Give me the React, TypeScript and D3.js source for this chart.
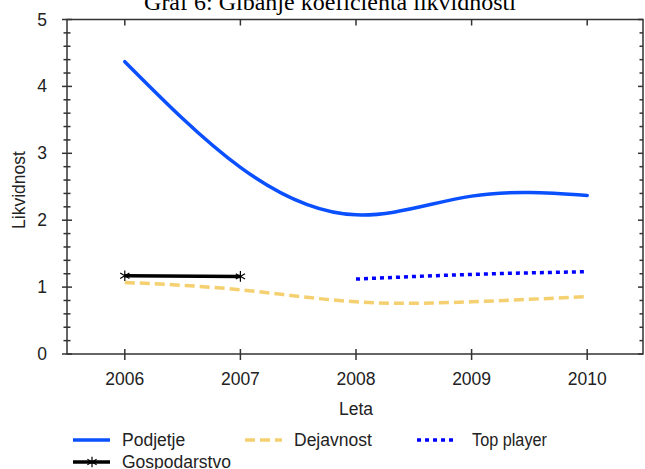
import * as React from 'react'
import * as d3 from 'd3'

interface Point {
    year: number
    value: number
}

// values
const years = [2006, 2007, 2008, 2009, 2010]
const podjetje = [4.37, 2.79, 2.08, 2.36, 2.37]
const dejavnost = [1.07, 0.96, 0.78, 0.78, 0.86]
const topPlayerYears = [2008, 2009, 2010]
const topPlayer = [1.12, 1.19, 1.23]
const gospodarstvoYears = [2006, 2007]
const gospodarstvo = [1.17, 1.16]
const yTicks = [0, 1, 2, 3, 4, 5]

const toPoints = (xs: number[], vs: number[]): Point[] =>
    xs.map((year, i) => ({ year, value: vs[i] }))

const FONT = '"Liberation Sans", Arial, sans-serif'

export default class App extends React.Component<{}, {}> {
    private node: SVGSVGElement | null = null

    componentDidMount() {
        this.draw()
    }

    private draw(): void {
        if (!this.node)
            return

        const svg = d3.select(this.node)
        svg.selectAll('*').remove()

        const left = 67, right = 643, top = 19.5, bottom = 354

        const x = d3.scaleLinear().domain([2005.5, 2010.5]).range([left, 645])
        const y = d3.scaleLinear().domain([0, 5]).range([bottom, top])

        const line = d3.line<Point>()
            .x(d => x(d.year))
            .y(d => y(d.value))

        // title (cut off by the top edge like the reference)
        svg.append('text')
            .attr('x', 330)
            .attr('y', 9.5)
            .attr('text-anchor', 'middle')
            .attr('font-family', '"Liberation Serif", "Times New Roman", serif')
            .attr('font-size', 24)
            .text('Graf 6: Gibanje koeficienta likvidnosti')

        const axisColor = '#333'
        const frame = svg.append('g').attr('stroke', axisColor).attr('stroke-width', 1.5).attr('fill', 'none')
        frame.append('path')
            .attr('d', `M${left},${top}H${right}V${bottom}H${left}Z`)

        // y ticks, minor every 0.2
        const minor = d3.range(0, 5.001, 0.2)
        for (const v of minor) {
            const isMajor = Math.abs(v - Math.round(v)) < 1e-6
            const len = isMajor ? 5 : 3.5
            frame.append('line')
                .attr('x1', left - len).attr('x2', left + len)
                .attr('y1', y(v)).attr('y2', y(v))
            frame.append('line')
                .attr('x1', right - len).attr('x2', right)
                .attr('y1', y(v)).attr('y2', y(v))
        }

        // x ticks
        for (const yr of years) {
            frame.append('line')
                .attr('x1', x(yr)).attr('x2', x(yr))
                .attr('y1', bottom - 5).attr('y2', bottom + 6)
            frame.append('line')
                .attr('x1', x(yr)).attr('x2', x(yr))
                .attr('y1', top).attr('y2', top + 6)
        }

        const labels = svg.append('g')
            .attr('font-family', FONT)
            .attr('font-size', 17.5)
            .attr('fill', '#222')

        labels.selectAll('text.ytick')
            .data(yTicks)
            .enter().append('text')
            .attr('class', 'ytick')
            .attr('x', 47)
            .attr('y', d => y(d) + 6)
            .attr('text-anchor', 'end')
            .text(d => d)

        labels.selectAll('text.xtick')
            .data(years)
            .enter().append('text')
            .attr('class', 'xtick')
            .attr('x', d => x(d))
            .attr('y', 385)
            .attr('text-anchor', 'middle')
            .text(d => d)

        labels.append('text')
            .attr('x', 356)
            .attr('y', 415)
            .attr('text-anchor', 'middle')
            .text('Leta')

        labels.append('text')
            .attr('transform', 'translate(25,190) rotate(-90)')
            .attr('text-anchor', 'middle')
            .text('Likvidnost')

        const plot = svg.append('g').attr('fill', 'none')

        // Dejavnost
        plot.append('path')
            .datum(toPoints(years, dejavnost))
            .attr('stroke', '#f5d070')
            .attr('stroke-width', 3.5)
            .attr('stroke-dasharray', '10,5')
            .attr('d', line.curve(d3.curveNatural))

        // Podjetje
        plot.append('path')
            .datum(toPoints(years, podjetje))
            .attr('stroke', '#0a50ff')
            .attr('stroke-width', 3.5)
            .attr('stroke-linecap', 'round')
            .attr('d', line.curve(d3.curveNatural))

        // Top player
        plot.append('path')
            .datum(toPoints(topPlayerYears, topPlayer))
            .attr('stroke', '#0000ff')
            .attr('stroke-width', 3.5)
            .attr('stroke-dasharray', '4,4')
            .attr('d', line.curve(d3.curveNatural))

        // Gospodarstvo
        const gosp = toPoints(gospodarstvoYears, gospodarstvo)
        plot.append('path')
            .datum(gosp)
            .attr('stroke', '#000')
            .attr('stroke-width', 3.5)
            .attr('d', line.curve(d3.curveLinear))

        const star = d3.symbol().type(d3.symbolAsterisk).size(80)
        plot.selectAll('path.star')
            .data(gosp)
            .enter().append('path')
            .attr('class', 'star')
            .attr('transform', d => `translate(${x(d.year)},${y(d.value)})`)
            .attr('stroke', '#000')
            .attr('stroke-width', 1.2)
            .attr('d', star)

        // legend
        const legend = [
            { label: 'Podjetje', color: '#0a50ff', dash: null, x: 73, y: 440, marker: false },
            { label: 'Dejavnost', color: '#f5d070', dash: '10,5', x: 245, y: 440, marker: false },
            { label: 'Top player', color: '#0000ff', dash: '4,4', x: 417, y: 440, marker: false },
            { label: 'Gospodarstvo', color: '#000', dash: null, x: 73, y: 462, marker: true },
        ]
        const lg = svg.append('g')
        for (const item of legend) {
            const row = lg.append('g').attr('transform', `translate(${item.x},${item.y})`)
            row.append('line')
                .attr('x1', 0).attr('x2', 37)
                .attr('stroke', item.color)
                .attr('stroke-width', 3.5)
                .attr('stroke-dasharray', item.dash)
            if (item.marker) {
                row.append('path')
                    .attr('transform', 'translate(19,0)')
                    .attr('fill', 'none')
                    .attr('stroke', '#000')
                    .attr('stroke-width', 1.2)
                    .attr('d', star)
            }
            const t = row.append('text')
                .attr('x', item.label === 'Top player' ? 55 : 49)
                .attr('y', 6)
                .attr('font-family', FONT)
                .attr('font-size', 17.5)
                .attr('fill', '#222')
                .text(item.label)
            if (item.label === 'Top player')
                t.attr('textLength', 75).attr('lengthAdjust', 'spacingAndGlyphs')
        }
    }

    render() {
        return (
            <svg
                width={645}
                height={469}
                style={{ position: 'absolute', left: 0, top: 0 }}
                ref={node => { this.node = node }} />
        )
    }
}
